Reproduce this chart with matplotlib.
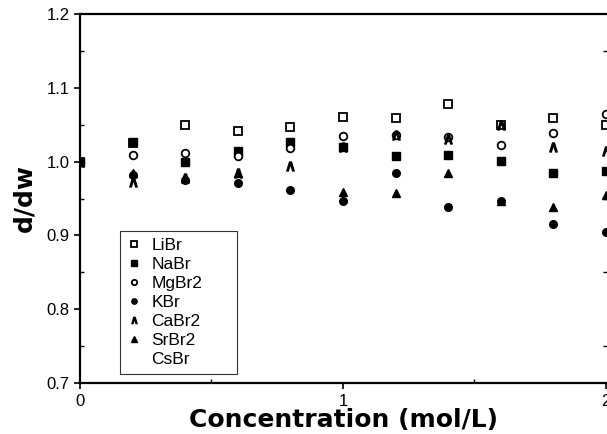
import numpy as np
import matplotlib
matplotlib.use("Agg")
import matplotlib.pyplot as plt
from matplotlib.ticker import MultipleLocator, FormatStrFormatter

plt.rcParams["font.family"] = ["Liberation Sans", "DejaVu Sans"]

# ── data ─────────────────────────────────────────────────────────────
conc = [0.0, 0.2, 0.4, 0.6, 0.8, 1.0, 1.2, 1.4, 1.6, 1.8, 2.0]
libr = [1.0, 1.025, 1.050, 1.041, 1.047, 1.061, 1.059, 1.078, 1.050, 1.059, 1.050]
nabr = [1.0, 1.026, 0.999, 1.014, 1.026, 1.020, 1.008, 1.009, 1.001, 0.985, 0.987]
mgbr2 = [1.0, 1.009, 1.011, 1.007, 1.019, 1.035, 1.036, 1.034, 1.023, 1.039, 1.064]
kbr = [1.0, 0.982, 0.975, 0.971, 0.961, 0.946, 0.985, 0.939, 0.946, 0.916, 0.904]
cabr2 = [1.0, 0.972, 0.978, 0.985, 0.994, 1.020, 1.036, 1.030, 1.050, 1.020, 1.014]
srbr2 = [1.0, 0.985, 0.978, 0.985, np.nan, 0.959, 0.958, 0.985, 0.946, 0.938, 0.955]

fig = plt.figure(figsize=(6.07, 4.34), dpi=100)
ax = fig.add_axes([80 / 607, 51 / 434, 527 / 607, 369 / 434])

ms = 5.5
ax.plot(conc, libr, ls="none", marker="s", ms=ms, mfc="white", mec="black", mew=1.3, label="LiBr")
ax.plot(conc, nabr, ls="none", marker="s", ms=ms, mfc="black", mec="black", label="NaBr")
ax.plot(conc, mgbr2, ls="none", marker="o", ms=ms, mfc="white", mec="black", mew=1.3, label="MgBr2")
ax.plot(conc, kbr, ls="none", marker="o", ms=ms, mfc="black", mec="black", label="KBr")
ax.plot(conc, cabr2, ls="none", marker=r"$\wedge$", ms=ms + 1, color="black", label="CaBr2")
ax.plot(conc, srbr2, ls="none", marker="^", ms=ms, mfc="black", mec="black", label="SrBr2")
ax.plot([], [], ls="none", marker="none", label="CsBr")

ax.set_xlim(0, 2.004)
ax.set_ylim(0.7, 1.2)
ax.set_xticks([0, 1, 2])
ax.xaxis.set_minor_locator(MultipleLocator(0.5))
ax.set_yticks([0.7, 0.8, 0.9, 1.0, 1.1, 1.2])
ax.yaxis.set_minor_locator(MultipleLocator(0.05))
ax.yaxis.set_major_formatter(FormatStrFormatter("%.1f"))
ax.tick_params(axis="both", which="major", labelsize=12, length=4, width=1.2, direction="out")
ax.tick_params(axis="x", which="major", pad=4)
ax.tick_params(axis="both", which="minor", length=3, width=1, direction="in")
ax.tick_params(axis="y", which="both", right=True)

for side in ["left", "bottom", "top"]:
    ax.spines[side].set_linewidth(1.6)
ax.spines["right"].set_visible(False)

ax.set_xlabel("Concentration (mol/L)", fontsize=18, fontweight="bold",
              family="DejaVu Sans", labelpad=-1)
ax.set_ylabel("d/dw", fontsize=18, fontweight="bold", family="DejaVu Sans", labelpad=7)

leg = ax.legend(loc="lower left", bbox_to_anchor=(0.076, 0.024, 0.222, 0.4),
                mode="expand", borderaxespad=0,
                fontsize=12.5, frameon=True, fancybox=False, markerscale=0.7,
                handlelength=0.8, handletextpad=0.6, borderpad=0.4,
                labelspacing=0.22)
leg.get_frame().set_edgecolor("black")
leg.get_frame().set_linewidth(0.8)

plt.savefig("out.png", dpi=100)
